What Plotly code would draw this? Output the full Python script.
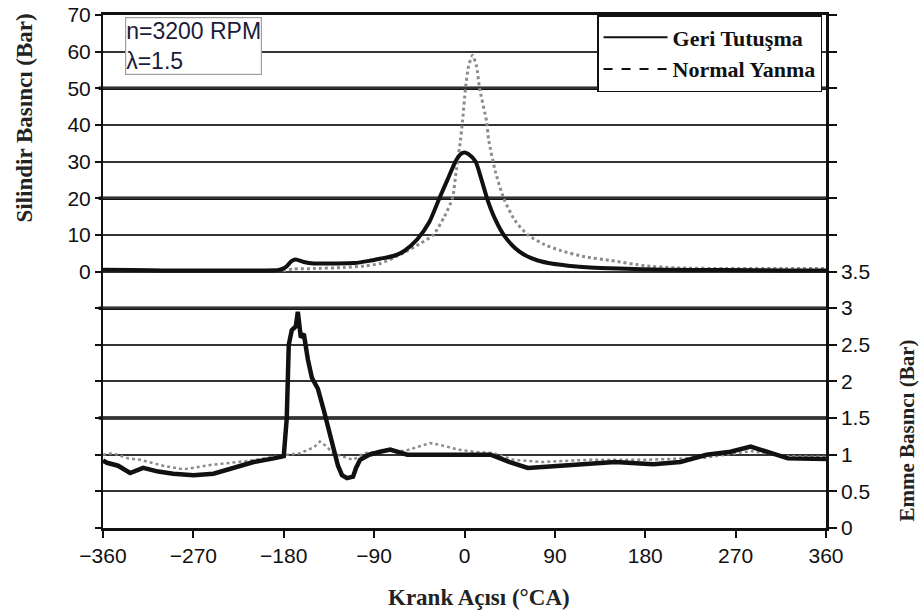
import plotly.graph_objects as go

# ---------------- data ----------------
# Cylinder pressure (bar) - backfire (Geri Tutuşma)
cyl_bf_angle = [-360, -330, -300, -270, -240, -210, -185, -178, -172, -168, -160, -150, -130, -110,
                -95, -84, -70, -60, -47, -35, -25, -17, -9, -4, 0, 4, 11, 17, 23, 31, 39, 50, 60,
                73, 88, 103, 125, 153, 200, 260, 320, 360]
cyl_bf_p = [0.5, 0.4, 0.3, 0.3, 0.3, 0.3, 0.4, 1.2, 2.9, 3.3, 2.6, 2.2, 2.2, 2.3,
            2.9, 3.5, 4.3, 5.6, 8.8, 13.5, 20, 25, 30, 32, 32.5, 32, 30, 25, 19.5, 14, 10, 6.5, 4.5,
            3, 2.1, 1.6, 1.1, 0.8, 0.5, 0.4, 0.3, 0.3]

# Cylinder pressure (bar) - normal combustion (Normal Yanma)
cyl_nc_angle = [-360, -300, -240, -180, -170, -150, -120, -100, -84, -61, -45, -31, -20, -12, -8,
                -4, -2, 1, 4, 8, 12, 15, 22, 24, 31, 39, 50, 63, 80, 96, 120, 146, 179, 210,
                260, 320, 360]
cyl_nc_p = [0.4, 0.3, 0.3, 0.3, 0.7, 0.8, 1.1, 1.5, 2.2, 5, 7.5, 10, 15, 20, 28,
            35.8, 41, 50, 56, 59, 56, 50, 41, 36, 27, 20, 14, 10, 7.3, 5.7, 4, 3, 1.6, 1.0,
            0.8, 0.8, 0.8]

# Intake pressure (bar) - backfire
int_bf_angle = [-360, -356, -345, -333, -320, -305, -290, -270, -250, -230, -210, -190, -180, -177,
                -175, -172, -168, -166, -163, -160, -156, -152, -146, -140, -136, -131, -126,
                -122, -117, -111, -108, -104, -95, -84, -74, -57, -30, 0, 26, 45, 63, 85, 109,
                150, 188, 215, 241, 265, 285, 300, 322, 360]
int_bf_p = [0.92, 0.89, 0.85, 0.75, 0.82, 0.77, 0.74, 0.72, 0.74, 0.82, 0.9, 0.95, 0.98, 1.5,
            2.5, 2.7, 2.75, 2.95, 2.6, 2.65, 2.3, 2.05, 1.9, 1.6, 1.38, 1.1, 0.85,
            0.72, 0.68, 0.7, 0.82, 0.93, 1.0, 1.04, 1.07, 1.0, 1.0, 1.0, 1.0, 0.9, 0.82, 0.84, 0.86,
            0.9, 0.87, 0.9, 1.0, 1.04, 1.11, 1.05, 0.95, 0.94]

# Intake pressure (bar) - normal combustion
int_nc_angle = [-360, -350, -335, -323, -300, -280, -253, -213, -176, -164, -150, -144, -138, -131,
                -120, -111, -100, -80, -60, -47, -34, -20, -7, 10, 29, 49, 76, 123, 180, 240,
                285, 320, 360]
int_nc_p = [1.0, 1.02, 0.95, 0.93, 0.85, 0.8, 0.86, 0.92, 1.0, 1.02, 1.1, 1.18, 1.12, 1.02,
            0.97, 0.93, 1.02, 1.05, 1.05, 1.11, 1.16, 1.12, 1.07, 1.04, 1.02, 0.93, 0.9, 0.93, 0.93, 0.96,
            1.05, 0.98, 0.97]

x_ticks = [-360, -270, -180, -90, 0, 90, 180, 270, 360]
left_ticks = [-70, -60, -50, -40, -30, -20, -10, 0, 10, 20, 30, 40, 50, 60, 70]
left_labels = ["", "", "", "", "", "", "", "0", "10", "20", "30", "40", "50", "60", "70"]
right_ticks = [0, 0.5, 1, 1.5, 2, 2.5, 3, 3.5, 4, 4.5, 5, 5.5, 6, 6.5, 7]
right_labels = ["0", "0.5", "1", "1.5", "2", "2.5", "3", "3.5", "", "", "", "", "", "", ""]
thick_grid = [50, 20, -10, -40]   # emphasised grid lines (left-axis units)

legend_names = ["<b>Geri Tutuşma</b>", "<b>Normal Yanma</b>"]

# ---------------- figure ----------------
fig = go.Figure()

fig.add_trace(go.Scatter(x=cyl_nc_angle, y=cyl_nc_p, mode="lines", yaxis="y",
                         line=dict(color="#8c8c8c", width=3, dash="dot", shape="spline", smoothing=0.6),
                         showlegend=False))
fig.add_trace(go.Scatter(x=cyl_bf_angle, y=cyl_bf_p, mode="lines", yaxis="y",
                         line=dict(color="#111111", width=4, shape="spline", smoothing=0.6),
                         showlegend=False))
fig.add_trace(go.Scatter(x=int_nc_angle, y=int_nc_p, mode="lines", yaxis="y2",
                         line=dict(color="#8c8c8c", width=2.5, dash="dot"),
                         showlegend=False))
fig.add_trace(go.Scatter(x=int_bf_angle, y=int_bf_p, mode="lines", yaxis="y2",
                         line=dict(color="#111111", width=4.5),
                         showlegend=False))

# legend entries
fig.add_trace(go.Scatter(x=[None], y=[None], mode="lines", name=legend_names[0],
                         line=dict(color="#111111", width=2)))
fig.add_trace(go.Scatter(x=[None], y=[None], mode="lines", name=legend_names[1],
                         line=dict(color="#111111", width=2, dash="dash")))

tick_font = dict(family="Liberation Sans, Arial", size=21, color="#111111")
title_font = dict(family="Liberation Serif, Times New Roman", size=23, color="#222222")
title_font_r = dict(family="Liberation Serif, Times New Roman", size=21, color="#222222")

fig.update_layout(
    width=921, height=613,
    margin=dict(l=103, r=95, t=15, b=85, autoexpand=False),
    paper_bgcolor="white", plot_bgcolor="white",
    xaxis=dict(range=[-360, 360], tickvals=x_ticks, ticks="outside", ticklen=7, tickwidth=2,
               tickcolor="#111", showline=True, linecolor="#111", linewidth=3, mirror=True,
               showgrid=False, zeroline=False, tickfont=tick_font, automargin=False),
    yaxis=dict(range=[-70, 70], tickvals=left_ticks, ticktext=left_labels, ticks="outside",
               ticklen=6, tickwidth=1.5, tickcolor="#111", showline=True, linecolor="#111",
               linewidth=2, showgrid=True, gridcolor="#333333", gridwidth=1.5, zeroline=False,
               tickfont=tick_font, automargin=False),
    yaxis2=dict(range=[0, 7], tickvals=right_ticks, ticktext=right_labels, overlaying="y",
                side="right", ticks="outside", ticklen=8, tickwidth=1.5, tickcolor="#111",
                showline=True, linecolor="#111", linewidth=2.5, showgrid=False, zeroline=False,
                tickfont=tick_font, automargin=False),
    legend=dict(x=0.9945, xanchor="right", y=1, yanchor="top", bgcolor="white",
                bordercolor="#111", borderwidth=1.5, itemwidth=64, tracegroupgap=0,
                font=dict(family="Liberation Serif, Times New Roman", size=22, color="#111")),
    showlegend=True,
)

for v in thick_grid:
    fig.add_shape(type="line", xref="x domain", x0=-0.006, x1=1, yref="y", y0=v, y1=v,
                  line=dict(color="#111111", width=3.5), layer="below")

fig.add_annotation(text="n=3200 RPM<br>λ=1.5", xref="paper", yref="paper", x=0.031, y=0.996,
                   xanchor="left", yanchor="top", align="left", showarrow=False,
                   bgcolor="white", bordercolor="#a0a0a0", borderwidth=1.2, borderpad=0,
                   font=dict(family="Liberation Sans, Arial", size=23, color="#1b1b3a"))

fig.add_annotation(text="<b>Silindir Basıncı (Bar)</b>", xref="paper", yref="paper",
                   x=-0.108, y=0.80, xanchor="center", yanchor="middle", textangle=-90,
                   showarrow=False, font=title_font)
fig.add_annotation(text="<b>Emme Basıncı (Bar)</b>", xref="paper", yref="paper",
                   x=1.112, y=0.19, xanchor="center", yanchor="middle", textangle=-90,
                   showarrow=False, font=title_font_r)
fig.add_annotation(text="<b>Krank Açısı (°CA)</b>", xref="paper", yref="paper",
                   x=0.52, y=-0.136, xanchor="center", yanchor="middle",
                   showarrow=False, font=title_font)

fig.write_html("out.html")
